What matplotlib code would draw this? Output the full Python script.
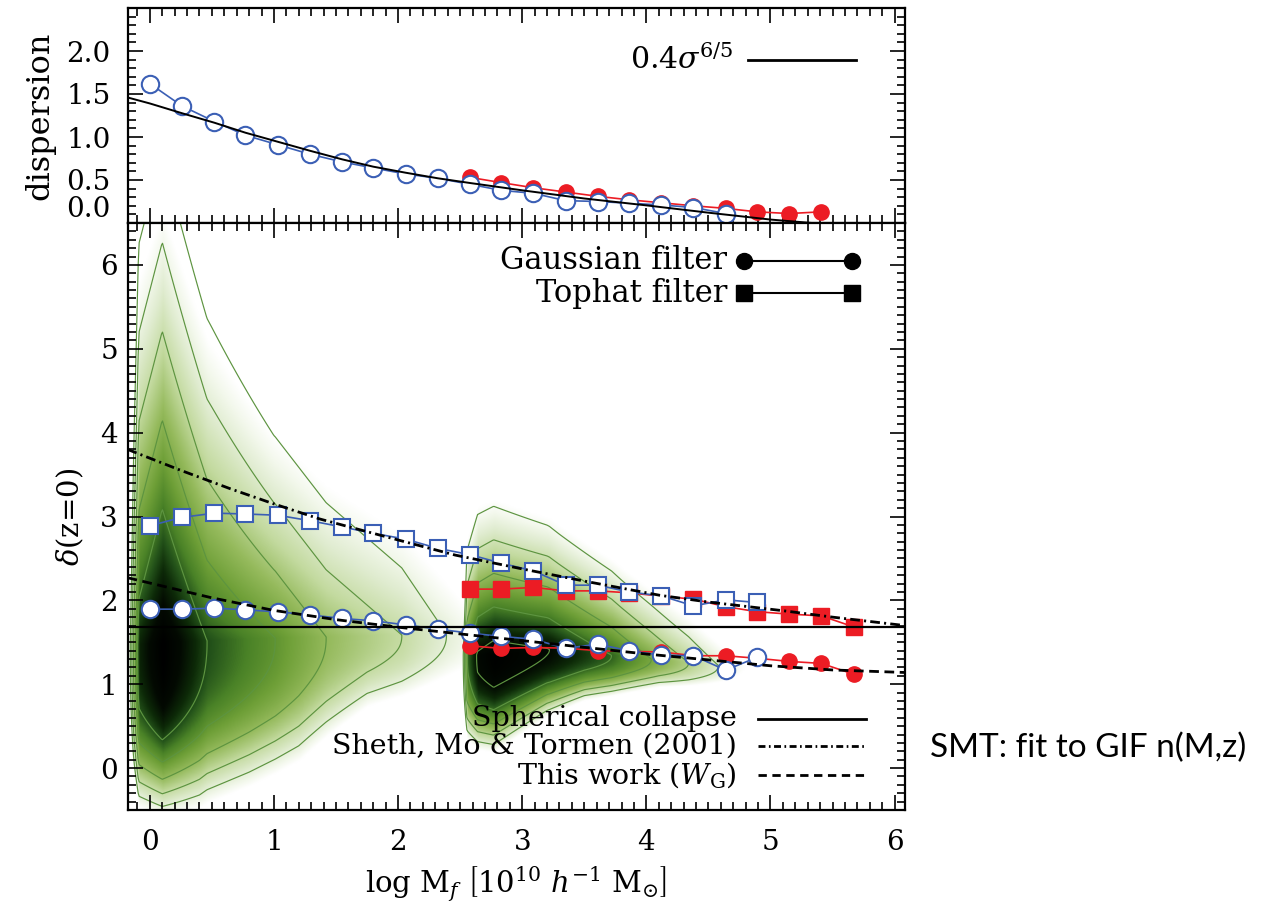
import numpy as np
import matplotlib
matplotlib.use('Agg')
import matplotlib.pyplot as plt
from matplotlib.colors import LinearSegmentedColormap
from matplotlib.ticker import MultipleLocator

plt.rcParams['font.family'] = ['DejaVu Serif']
plt.rcParams['mathtext.fontset'] = 'dejavuserif'
plt.rcParams['lines.scale_dashes'] = False

# ---------------- data ----------------
logM = [0.00, 0.26, 0.52, 0.77, 1.03, 1.29, 1.55, 1.80, 2.06, 2.32, 2.58, 2.83,
        3.09, 3.35, 3.61, 3.86, 4.12, 4.38, 4.64, 4.89, 5.15, 5.41, 5.67]

# top panel: dispersion
disp_blue = [1.62, 1.36, 1.18, 1.02, 0.91, 0.80, 0.71, 0.64, 0.57, 0.52, 0.45,
             0.38, 0.345, 0.26, 0.25, 0.23, 0.21, 0.18, 0.11]
disp_red = [0.53, 0.47, 0.41, 0.36, 0.31, 0.27, 0.235, 0.20, 0.17, 0.13, 0.11, 0.13]
fit_x = [-0.18, 0.0, 0.26, 0.52, 0.77, 1.03, 1.29, 1.55, 1.80, 2.06, 2.32, 2.58,
         3.0, 3.5, 4.0, 4.5, 5.0, 5.5, 6.08]
fit_y = [1.46, 1.39, 1.276, 1.166, 1.05, 0.945, 0.84, 0.74, 0.655, 0.585, 0.52,
         0.465, 0.38, 0.285, 0.205, 0.12, 0.04, -0.02, -0.07]

# bottom panel: delta(z=0)
sq_blue = [2.89, 2.99, 3.04, 3.03, 3.015, 2.95, 2.875, 2.80, 2.73, 2.62, 2.545,
           2.443, 2.352, 2.181, 2.181, 2.10, 2.054, 1.934, 2.006, 1.975]
ci_blue = [1.895, 1.895, 1.907, 1.887, 1.863, 1.827, 1.784, 1.756, 1.708, 1.657,
           1.609, 1.57, 1.537, 1.427, 1.478, 1.398, 1.347, 1.339, 1.168, 1.319]
sq_red = [2.134, 2.134, 2.154, 2.113, 2.113, 2.09, 2.05, 2.014, 1.925, 1.865,
          1.836, 1.815, 1.684]
ci_red = [1.458, 1.427, 1.438, 1.43, 1.40, 1.39, 1.385, 1.34, 1.339, 1.31,
          1.272, 1.248, 1.12]

delta_c = 1.686
smt_x = [-0.18, 0.25, 0.65, 1.0, 1.37, 2.0, 2.46, 3.0, 3.5, 4.11, 4.5, 5.11, 5.5, 6.08]
smt_y = [3.80, 3.55, 3.33, 3.15, 2.97, 2.72, 2.54, 2.375, 2.23, 2.06, 1.98, 1.875, 1.80, 1.70]
tw_x = [-0.18, 0.5, 1.0, 1.5, 2.0, 2.5, 3.0, 3.5, 4.0, 4.5, 5.0, 5.5, 6.08]
tw_y = [2.27, 2.03, 1.88, 1.77, 1.68, 1.60, 1.52, 1.44, 1.36, 1.29, 1.22, 1.17, 1.14]

# density blobs (log-density ridge description)
A_ax = [-0.25, -0.17, -0.13, -0.09, 0.10, 0.46, 1.01, 1.42, 2.03, 2.39, 3.0]
A_av = [-4.0, 0.0, 3.2, 5.5, 6.5, 5.0, 4.0, 3.0, 2.0, 1.0, -0.8]
A_sux = [-0.25, 0.10, 0.50, 1.00, 1.50, 3.0]
A_suv = [1.06, 1.06, 0.95, 0.80, 0.80, 0.80]
A_slx = [-0.25, 0.10, 0.40, 0.80, 1.20, 1.75, 2.40, 3.0]
A_slv = [0.99, 0.99, 1.03, 0.975, 0.89, 0.59, 0.50, 0.50]
A_ycx = [-0.25, 0.10, 1.00, 2.40, 3.0]
A_ycv = [1.45, 1.50, 1.55, 1.60, 1.60]
A_peak = 6.5

B_ax = [2.48, 2.52, 2.555, 2.64, 2.77, 3.22, 3.72, 4.04, 4.34, 4.58, 4.9]
B_av = [-4.0, 0.5, 4.0, 5.1, 5.43, 5.0, 4.0, 3.0, 2.0, 1.0, -0.5]
B_sux = [2.45, 2.77, 3.30, 3.80, 4.60]
B_suv = [0.42, 0.40, 0.36, 0.33, 0.30]
B_slx = [2.45, 2.77, 3.20, 3.50, 4.10, 4.60]
B_slv = [0.56, 0.56, 0.40, 0.30, 0.21, 0.20]
B_ycx = [2.45, 2.77, 3.20, 4.60]
B_ycv = [1.35, 1.35, 1.42, 1.22]
B_peak = 5.5

levels = [1, 2, 3, 4, 5]

# ---------------- figure ----------------
W, H = 1263, 906
fig = plt.figure(figsize=(W / 100, H / 100), dpi=100)
xl, xr = 127.5, 904.5
ax_top = fig.add_axes([xl / W, 1 - 223 / H, (xr - xl) / W, (223 - 8) / H])
ax = fig.add_axes([xl / W, 1 - 810 / H, (xr - xl) / W, (810 - 223) / H])

XLIM = (-0.18, 6.08)
blue = '#3b5fb5'
red = '#ec1c24'

# ---- density field ----
gx = np.linspace(XLIM[0], XLIM[1], 800)
gy = np.linspace(-0.5, 6.5, 700)
X, Y = np.meshgrid(gx, gy)


def field(ax_, av, sux, suv, slx, slv, ycx, ycv, p, ufac=1.0):
    a = np.interp(X, ax_, av)
    su = np.interp(X, sux, suv) * ufac
    sl = np.interp(X, slx, slv)
    yc = np.interp(X, ycx, ycv)
    dy = Y - yc
    d = np.where(dy > 0, dy / su, (np.abs(dy) / sl) ** p)
    return a - d


LA = field(A_ax, A_av, A_sux, A_suv, A_slx, A_slv, A_ycx, A_ycv, 2.5)
LB = field(B_ax, B_av, B_sux, B_suv, B_slx, B_slv, B_ycx, B_ycv, 2.3)
SA = field(A_ax, A_av, A_sux, A_suv, A_slx, A_slv, A_ycx, A_ycv, 2.5, 0.75)
SB = field(B_ax, B_av, B_sux, B_suv, B_slx, B_slv, B_ycx, B_ycv, 2.3, 0.85)
T = np.maximum(np.clip(SA / A_peak, 0, 1), np.clip(SB / B_peak, 0, 1))

cmap = LinearSegmentedColormap.from_list('grn', [
    (0.0, '#ffffff'), (0.08, '#f3f8ec'), (0.18, '#e0ecd0'), (0.32, '#c3da9f'),
    (0.46, '#95ba5c'), (0.58, '#6e9f37'), (0.68, '#4a8227'), (0.76, '#24531a'),
    (0.83, '#0d2a08'), (0.91, '#030a02'), (1.0, '#000000')])
ax.imshow(T, origin='lower', extent=[gx[0], gx[-1], gy[0], gy[-1]], aspect='auto',
          cmap=cmap, vmin=0, vmax=1, interpolation='bilinear', zorder=0)
ax.contour(X, Y, LA, levels=levels, colors='#5d9440', linewidths=0.85, zorder=1)
ax.contour(X, Y, LB, levels=levels, colors='#5d9440', linewidths=0.85, zorder=1)

# ---- bottom panel data ----
ax.plot(logM[10:23], sq_red, '-', color=red, lw=1.2, marker='s', ms=11,
        mfc=red, mec=red, zorder=3)
ax.plot(logM[10:23], ci_red, '-', color=red, lw=1.2, marker='o', ms=11,
        mfc=red, mec=red, zorder=3)
ax.plot(logM[:20], sq_blue, '-', color=blue, lw=1.2, marker='s', ms=11.5,
        mfc='white', mec=blue, mew=1.5, zorder=4)
ax.plot(logM[:20], ci_blue, '-', color=blue, lw=1.2, marker='o', ms=12.5,
        mfc='white', mec=blue, mew=1.5, zorder=4)

ax.axhline(delta_c, color='black', lw=1.6, zorder=5)
ax.plot(smt_x, smt_y, color='black', lw=2.0, dashes=[7, 3, 1.5, 3], zorder=5)
ax.plot(tw_x, tw_y, color='black', lw=2.0, dashes=[7, 4], zorder=5)

FS = 22
FS2 = 20.5
# legends (bottom panel)
ax.text(4.65, 6.05, 'Gaussian filter', ha='right', va='center', fontsize=FS, zorder=6)
ax.plot([4.79, 5.66], [6.05, 6.05], '-', color='black', lw=1.5, marker='o', ms=11.5, zorder=6)
ax.text(4.65, 5.66, 'Tophat filter', ha='right', va='center', fontsize=FS, zorder=6)
ax.plot([4.79, 5.66], [5.66, 5.66], '-', color='black', lw=1.5, marker='s', ms=12, zorder=6)

ax.text(4.73, 0.59, 'Spherical collapse', ha='right', va='center', fontsize=FS2, zorder=6)
ax.plot([4.90, 5.77], [0.59, 0.59], color='black', lw=2.0, zorder=6)
ax.text(4.73, 0.26, 'Sheth, Mo & Tormen (2001)', ha='right', va='center', fontsize=FS2, zorder=6)
ax.plot([4.90, 5.77], [0.26, 0.26], color='black', lw=2.0, dashes=[5, 2.5, 1.2, 2.5], zorder=6)
ax.text(4.73, -0.08, r'This work ($W_{\rm G}$)', ha='right', va='center', fontsize=FS2, zorder=6)
ax.plot([4.90, 5.77], [-0.08, -0.08], color='black', lw=2.0, dashes=[6, 4], zorder=6)

# ---- top panel ----
ax_top.plot(logM[10:22], disp_red, '-', color=red, lw=1.2, marker='o', ms=11,
            mfc=red, mec=red, zorder=3)
ax_top.plot(logM[:19], disp_blue, '-', color=blue, lw=1.2, marker='o', ms=12.5,
            mfc='white', mec=blue, mew=1.5, zorder=4)
ax_top.plot(fit_x, fit_y, color='black', lw=1.4, zorder=5)
ax_top.text(4.70, 1.90, r'$0.4\sigma^{6/5}$', ha='right', va='center', fontsize=21.5)
ax_top.plot([4.82, 5.69], [1.90, 1.90], color='black', lw=2.0)

# ---- axes styling ----
for a_ in (ax, ax_top):
    a_.set_xlim(*XLIM)
    a_.xaxis.set_major_locator(MultipleLocator(1))
    a_.xaxis.set_minor_locator(MultipleLocator(0.1))
    a_.tick_params(which='both', direction='in', top=True, right=True, width=1.2,
                   labelsize=20)
    a_.tick_params(which='major', length=11)
    a_.tick_params(which='minor', length=6)
    for s in a_.spines.values():
        s.set_linewidth(1.6)

ax.set_ylim(-0.5, 6.5)
ax.yaxis.set_major_locator(MultipleLocator(1))
ax.yaxis.set_minor_locator(MultipleLocator(0.1))
ax.tick_params(axis='x', pad=14)
ax.tick_params(axis='y', pad=7)

ax_top.set_ylim(0, 2.5)
ax_top.set_yticks([0.0, 0.5, 1.0, 1.5, 2.0])
ax_top.set_yticklabels(['0.0', '0.5', '1.0', '1.5', '2.0'])
ax_top.yaxis.set_minor_locator(MultipleLocator(0.1))
ax_top.tick_params(axis='x', labelbottom=False)
ax_top.tick_params(axis='y', pad=12)
ax_top.yaxis.get_major_ticks()[0].label1.set_verticalalignment('bottom')

ax.set_xlabel(r'log M$_f$ $\left[10^{10}\ h^{-1}\ {\rm M}_{\odot}\right]$', fontsize=21, labelpad=6)
ax.set_ylabel(r'$\delta$(z=0)', fontsize=21, labelpad=10)
ax_top.set_ylabel('dispersion', fontsize=23, labelpad=8)
fig.align_ylabels([ax, ax_top])

fig.text(930 / W, 1 - 748 / H, 'SMT: fit to GIF n(M,z)', family=['Lato', 'DejaVu Sans'],
         fontsize=24, ha='left', va='center')

fig.savefig('out.png', dpi=100)
